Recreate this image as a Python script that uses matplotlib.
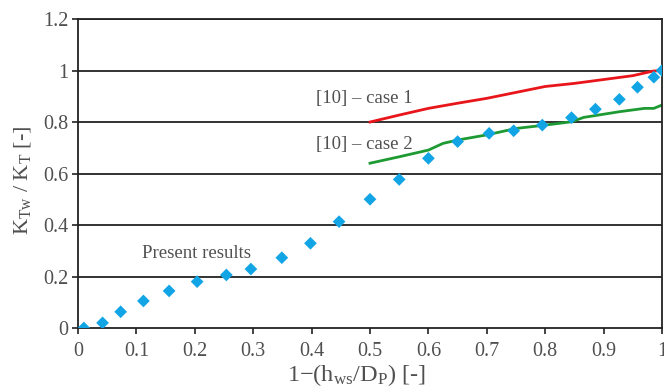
import matplotlib
matplotlib.use("Agg")
import matplotlib.pyplot as plt

# Data
present_x = [0.01, 0.042, 0.073, 0.112, 0.156, 0.204, 0.254, 0.296, 0.349, 0.398, 0.447,
             0.50, 0.55, 0.60, 0.65, 0.704, 0.746, 0.795, 0.845, 0.886, 0.927, 0.958, 0.986, 1.0]
present_y = [0.0, 0.02, 0.063, 0.105, 0.144, 0.18, 0.206, 0.229, 0.273, 0.329, 0.413,
             0.50, 0.577, 0.659, 0.724, 0.756, 0.766, 0.788, 0.817, 0.85, 0.888, 0.935, 0.974, 1.0]

case1_x = [0.5, 0.55, 0.6, 0.65, 0.7, 0.75, 0.8, 0.85, 0.9, 0.95, 0.985, 1.0]
case1_y = [0.80, 0.827, 0.853, 0.873, 0.892, 0.915, 0.938, 0.95, 0.965, 0.98, 0.998, 1.0]

case2_x = [0.5, 0.55, 0.6, 0.625, 0.65, 0.7, 0.75, 0.8, 0.845, 0.866, 0.927, 0.97, 0.986, 1.0]
case2_y = [0.64, 0.665, 0.691, 0.717, 0.73, 0.75, 0.775, 0.788, 0.801, 0.818, 0.84, 0.853, 0.853, 0.866]

xticks = [0, 0.1, 0.2, 0.3, 0.4, 0.5, 0.6, 0.7, 0.8, 0.9, 1.0]
xticklabels = ["0", "0.1", "0.2", "0.3", "0.4", "0.5", "0.6", "0.7", "0.8", "0.9", "1"]
yticks = [0, 0.2, 0.4, 0.6, 0.8, 1.0, 1.2]
yticklabels = ["0", "0.2", "0.4", "0.6", "0.8", "1", "1.2"]

plt.rcParams['font.family'] = ['Liberation Serif', 'DejaVu Serif']
plt.rcParams['mathtext.fontset'] = 'custom'
plt.rcParams['mathtext.rm'] = 'Liberation Serif'
plt.rcParams['mathtext.it'] = 'Liberation Serif:italic'

text_color = '#505050'

fig = plt.figure(figsize=(6.64, 3.89), dpi=100)
ax = fig.add_axes([0.1175, 0.1568, 0.8795, 0.7943])

for y in yticks[1:]:
    ax.axhline(y, color='#222222', lw=1.3, zorder=1)

ax.plot(case1_x, case1_y, color='#e8161b', lw=2.0, zorder=2)
ax.plot(case2_x, case2_y, color='#1e9a33', lw=2.0, zorder=2)
ax.scatter(present_x, present_y, marker='D', s=42, color='#12a5e6', edgecolors='none', zorder=3)

ax.set_xlim(0, 1.0)
ax.set_ylim(0, 1.2)
ax.set_xticks(xticks)
ax.set_xticklabels(xticklabels)
ax.set_yticks(yticks)
ax.set_yticklabels(yticklabels)
ax.tick_params(axis='both', direction='out', length=4, width=1.2, color='#222222',
               labelsize=14.5, labelcolor=text_color)
ax.tick_params(axis='x', pad=6)
ax.tick_params(axis='y', pad=3)

for s in ax.spines.values():
    s.set_color('#222222')
    s.set_linewidth(1.3)

ax.set_xlabel(r'1$-$(h$_{\mathrm{ws}}$/D$_{\mathrm{P}}$) [-]', fontsize=17.5, color=text_color, labelpad=1)
ax.set_ylabel(r'K$_{\mathrm{Tw}}$ / K$_{\mathrm{T}}$ [-]', fontsize=16, color=text_color, labelpad=7)
ax.xaxis.label.set_x(0.476)
ax.yaxis.label.set_y(0.477)

ax.text(0.4075, 0.892, '[10] – case 1', fontsize=13.5, color=text_color, va='center', ha='left')
ax.text(0.4075, 0.711, '[10] – case 2', fontsize=13.5, color=text_color, va='center', ha='left')
ax.text(0.109, 0.291, 'Present results', fontsize=13.5, color=text_color, va='center', ha='left')

fig.savefig('out.png', dpi=100)
